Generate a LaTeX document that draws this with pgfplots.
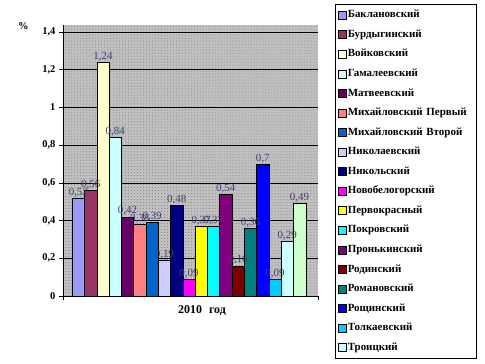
\documentclass[border=0pt]{standalone}
\usepackage{pgfplots}
\pgfplotsset{compat=1.18}
\usepackage{fontspec}
\setmainfont{Liberation Serif}
\usetikzlibrary{patterns}
\definecolor{c1}{HTML}{9999FF}
\definecolor{c2}{HTML}{993366}
\definecolor{c3}{HTML}{FFFFCC}
\definecolor{c4}{HTML}{CCFFFF}
\definecolor{c5}{HTML}{660066}
\definecolor{c6}{HTML}{FF8080}
\definecolor{c7}{HTML}{0066CC}
\definecolor{c8}{HTML}{CCCCFF}
\definecolor{c9}{HTML}{000080}
\definecolor{c10}{HTML}{FF00FF}
\definecolor{c11}{HTML}{FFFF00}
\definecolor{c12}{HTML}{00FFFF}
\definecolor{c13}{HTML}{800080}
\definecolor{c14}{HTML}{800000}
\definecolor{c15}{HTML}{008080}
\definecolor{c16}{HTML}{0000FF}
\definecolor{c17}{HTML}{00CCFF}
\definecolor{c18}{HTML}{CCFFFF}
\definecolor{c19}{HTML}{CCFFCC}
\definecolor{wall}{HTML}{C0C0C0}
\definecolor{dotc}{HTML}{808080}
\definecolor{lab}{HTML}{404070}
\begin{document}
\begin{tikzpicture}
\begin{axis}[
  scale only axis,
  width=255bp, height=271bp,
  at={(63bp,68bp)}, anchor=south west,
  clip=false,
  xmin=-0.25, xmax=20.5,
  ymin=0, ymax=1.437,
  enlargelimits=false,
  axis x line*=bottom, axis y line*=left,
  axis line style={black, line width=0.6pt},
  axis background/.style={fill=wall, postaction={pattern=dots, pattern color=dotc}},
  ytick={0,0.2,0.4,0.6,0.8,1,1.2,1.4},
  yticklabels={0,{0,2},{0,4},{0,6},{0,8},1,{1,2},{1,4}},
  ymajorgrids,
  grid style={black, line width=0.5pt},
  tick align=outside,
  major tick length=4bp,
  tick style={black, line width=0.5pt},
  xtick={-0.25,20.5},
  xticklabels={},
  xlabel={2010\hspace{7bp}год},
  xlabel style={font=\fontsize{12}{13}\selectfont\bfseries, at={(axis description cs:0.545,0)}, anchor=north, yshift=-6bp},
  yticklabel style={font=\fontsize{10.5}{12}\selectfont\bfseries},
  point meta=explicit symbolic,
  nodes near coords={\pgfplotspointmeta},
  every node near coord/.append style={font=\fontsize{11}{12}\selectfont, text=lab, inner sep=1pt},
  legend image code/.code={\draw[#1, draw=black, line width=0.4pt] (0pt,-4pt) rectangle (8pt,4pt);},
  legend cell align=left,
  legend style={at={(axis description cs:1.0667,1.0775)}, anchor=north west,
    draw=black, line width=0.8pt, fill=white,
    font=\fontsize{11}{12}\selectfont\bfseries,
    row sep=8.1bp, inner xsep=3pt, inner ysep=5pt,
    nodes={inner sep=1pt, text height=7.5pt, text depth=2pt, line width=0.4pt},
    /tikz/every even column/.append style={column sep=1pt, text width=125bp}},
  every axis plot/.append style={ybar, bar shift=0pt, bar width=1, draw=black, line width=0.4pt},
]
\addplot[fill=c1] coordinates {(1,0.52) [{0,52}]}; \addlegendentry{Баклановский}
\addplot[fill=c2] coordinates {(2,0.56) [{0,56}]}; \addlegendentry{Бурдыгинский}
\addplot[fill=c3] coordinates {(3,1.24) [{1,24}]}; \addlegendentry{Войковский}
\addplot[fill=c4] coordinates {(4,0.84) [{0,84}]}; \addlegendentry{Гамалеевский}
\addplot[fill=c5] coordinates {(5,0.42) [{0,42}]}; \addlegendentry{Матвеевский}
\addplot[fill=c6] coordinates {(6,0.38) [{0,38}]}; \addlegendentry{Михайловский Первый}
\addplot[fill=c7] coordinates {(7,0.39) [{0,39}]}; \addlegendentry{Михайловский Второй}
\addplot[fill=c8] coordinates {(8,0.19) [{0,19}]}; \addlegendentry{Николаевский}
\addplot[fill=c9] coordinates {(9,0.48) [{0,48}]}; \addlegendentry{Никольский}
\addplot[fill=c10] coordinates {(10,0.09) [{0,09}]}; \addlegendentry{Новобелогорский}
\addplot[fill=c11] coordinates {(11,0.37) [{0,37}]}; \addlegendentry{Первокрасный}
\addplot[fill=c12] coordinates {(12,0.37) [{0,37}]}; \addlegendentry{Покровский}
\addplot[fill=c13] coordinates {(13,0.54) [{0,54}]}; \addlegendentry{Пронькинский}
\addplot[fill=c14] coordinates {(14,0.16) [{0,16}]}; \addlegendentry{Родинский}
\addplot[fill=c15] coordinates {(15,0.36) [{0,36}]}; \addlegendentry{Романовский}
\addplot[fill=c16] coordinates {(16,0.7) [{0,7}]}; \addlegendentry{Рощинский}
\addplot[fill=c17] coordinates {(17,0.09) [{0,09}]}; \addlegendentry{Толкаевский}
\addplot[fill=c18] coordinates {(18,0.29) [{0,29}]}; \addlegendentry{Троицкий}
\addplot[fill=c19, forget plot] coordinates {(19,0.49) [{0,49}]};
\node[font=\fontsize{10.5}{12}\selectfont\bfseries] at (axis description cs:-0.155,0.996) {\%};
\end{axis}
\pgfresetboundingbox
\path[use as bounding box] (0,0) rectangle (485bp,364bp);
\end{tikzpicture}
\end{document}
